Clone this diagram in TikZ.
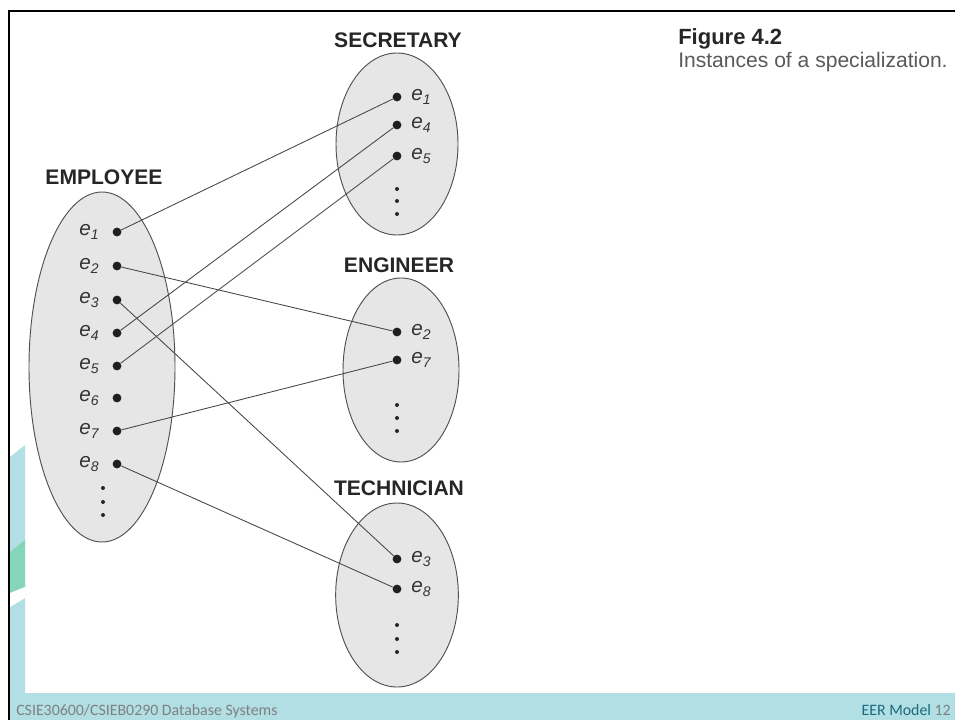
\documentclass[tikz,border=0pt]{standalone}
\usepackage{fontspec}
\setmainfont{Liberation Sans}
\newfontfamily\footfont{Carlito}
\usetikzlibrary{shapes.geometric,positioning}

\definecolor{setfill}{HTML}{E6E6E6}
\definecolor{setline}{HTML}{505050}
\definecolor{bandteal}{HTML}{B1DFE4}
\definecolor{mint}{HTML}{84D5BA}
\definecolor{footteal}{HTML}{1C6A7C}

\newcommand\memb[1]{e\raisebox{-0.35ex}{\fontsize{10.5}{11}\selectfont #1}}

\tikzset{
  setbox/.style={draw=setline,fill=setfill,ellipse,line width=0.7pt,inner sep=0},
  member/.style={circle,fill=black!88,inner sep=0,minimum size=6.6pt},
  elbl/.style={text=black!80,font=\fontsize{15.5}{16}\selectfont\itshape,inner sep=1pt},
  settitle/.style={font=\fontsize{15.8}{17}\selectfont\bfseries,text=black!85,inner sep=0},
  memberline/.style={draw=black!72,line width=0.65pt}
}

\begin{document}
\begin{tikzpicture}[x=0.75pt,y=-0.75pt]
\useasboundingbox (0,0) rectangle (955,720);
% slide behind the pasted figure
\fill[bandteal] (10,457) -- (25,445) -- (25,693) -- (10,693) -- cycle;
\fill[mint] (10,552) -- (25,540) -- (25,587) -- (10,593) -- cycle;
\fill[white] (10,593) -- (25,587) -- (25,598) -- (10,607) -- cycle;
\fill[bandteal] (10,693) rectangle (955,720);
\draw[line width=1.9pt] (8.8,720) -- (8.8,11.2) -- (955,11.2);

% the four sets
\node[setbox,minimum width=109.5pt,minimum height=262.5pt] (emp) at (102,367) {};
\node[setbox,minimum width=91.5pt,minimum height=136.5pt] (sec) at (397,144) {};
\node[setbox,minimum width=87pt,minimum height=138pt] (eng) at (401,370) {};
\node[setbox,minimum width=92pt,minimum height=138pt] (tec) at (397,595) {};
\node[settitle] (emptitle) at (104,177) {EMPLOYEE};
\node[settitle] (sectitle) at (398,40) {SECRETARY};
\node[settitle] (engtitle) at (399,265) {ENGINEER};
\node[settitle] (tectitle) at (399,488) {TECHNICIAN};

% members
\path (117,232) node[member] (emp1) {}
    +(0,34) node[member] (emp2) {}
    +(0,68) node[member] (emp3) {}
    +(0,101) node[member] (emp4) {}
    +(0,134) node[member] (emp5) {}
    +(0,166) node[member] (emp6) {}
    +(0,199) node[member] (emp7) {}
    +(0,232) node[member] (emp8) {};
\path (397,97) node[member] (sec1) {}
    +(0,28) node[member] (sec4) {}
    +(0,59) node[member] (sec5) {};
\path (397,332) node[member] (eng2) {}
    +(0,28) node[member] (eng7) {};
\path (397,559) node[member] (tec3) {}
    +(0,30) node[member] (tec8) {};

\foreach \i in {1,...,8}
  \node[elbl,left=9pt of emp\i] (emp\i l) {\memb{\i}};
\foreach \i in {1,4,5}
  \node[elbl,right=6pt of sec\i] (sec\i l) {\memb{\i}};
\foreach \i in {2,7}
  \node[elbl,right=6pt of eng\i] (eng\i l) {\memb{\i}};
\foreach \i in {3,8}
  \node[elbl,right=6pt of tec\i] (tec\i l) {\memb{\i}};

% more members not shown
\foreach \x/\y in {103/488,103/502,103/515,397/189,397/201,397/214,
    397/405,397/418,397/431,397/625,397/639,397/652}
  \fill[black!85] (\x,\y) circle [radius=1.5pt];

\draw[memberline] (emp1) -- (sec1);
\draw[memberline] (emp4) -- (sec4);
\draw[memberline] (emp5) -- (sec5);
\draw[memberline] (emp2) -- (eng2);
\draw[memberline] (emp7) -- (eng7);
\draw[memberline] (emp3) -- (tec3);
\draw[memberline] (emp8) -- (tec8);

% caption
\node[anchor=west,inner sep=0,font=\fontsize{16.5}{18}\selectfont\bfseries,text=black!85]
    (fignum) at (678,39) {Figure 4.2};
\node[anchor=west,inner sep=0,font=\fontsize{15.8}{18}\selectfont,text=black!65]
    (figcap) at (678,62) {Instances of a specialization.};

% footer
\node[anchor=base west,inner sep=0,font=\footfont\fontsize{11.9}{13}\selectfont,text=black!50]
    (course) at (16,715.5) {CSIE30600/CSIEB0290 Database Systems};
\node[anchor=base east,inner sep=0,font=\footfont\fontsize{11.9}{13}\selectfont,text=black!50]
    (pageno) at (951,715.5) {\textcolor{footteal}{EER Model} 12};
\end{tikzpicture}
\end{document}
